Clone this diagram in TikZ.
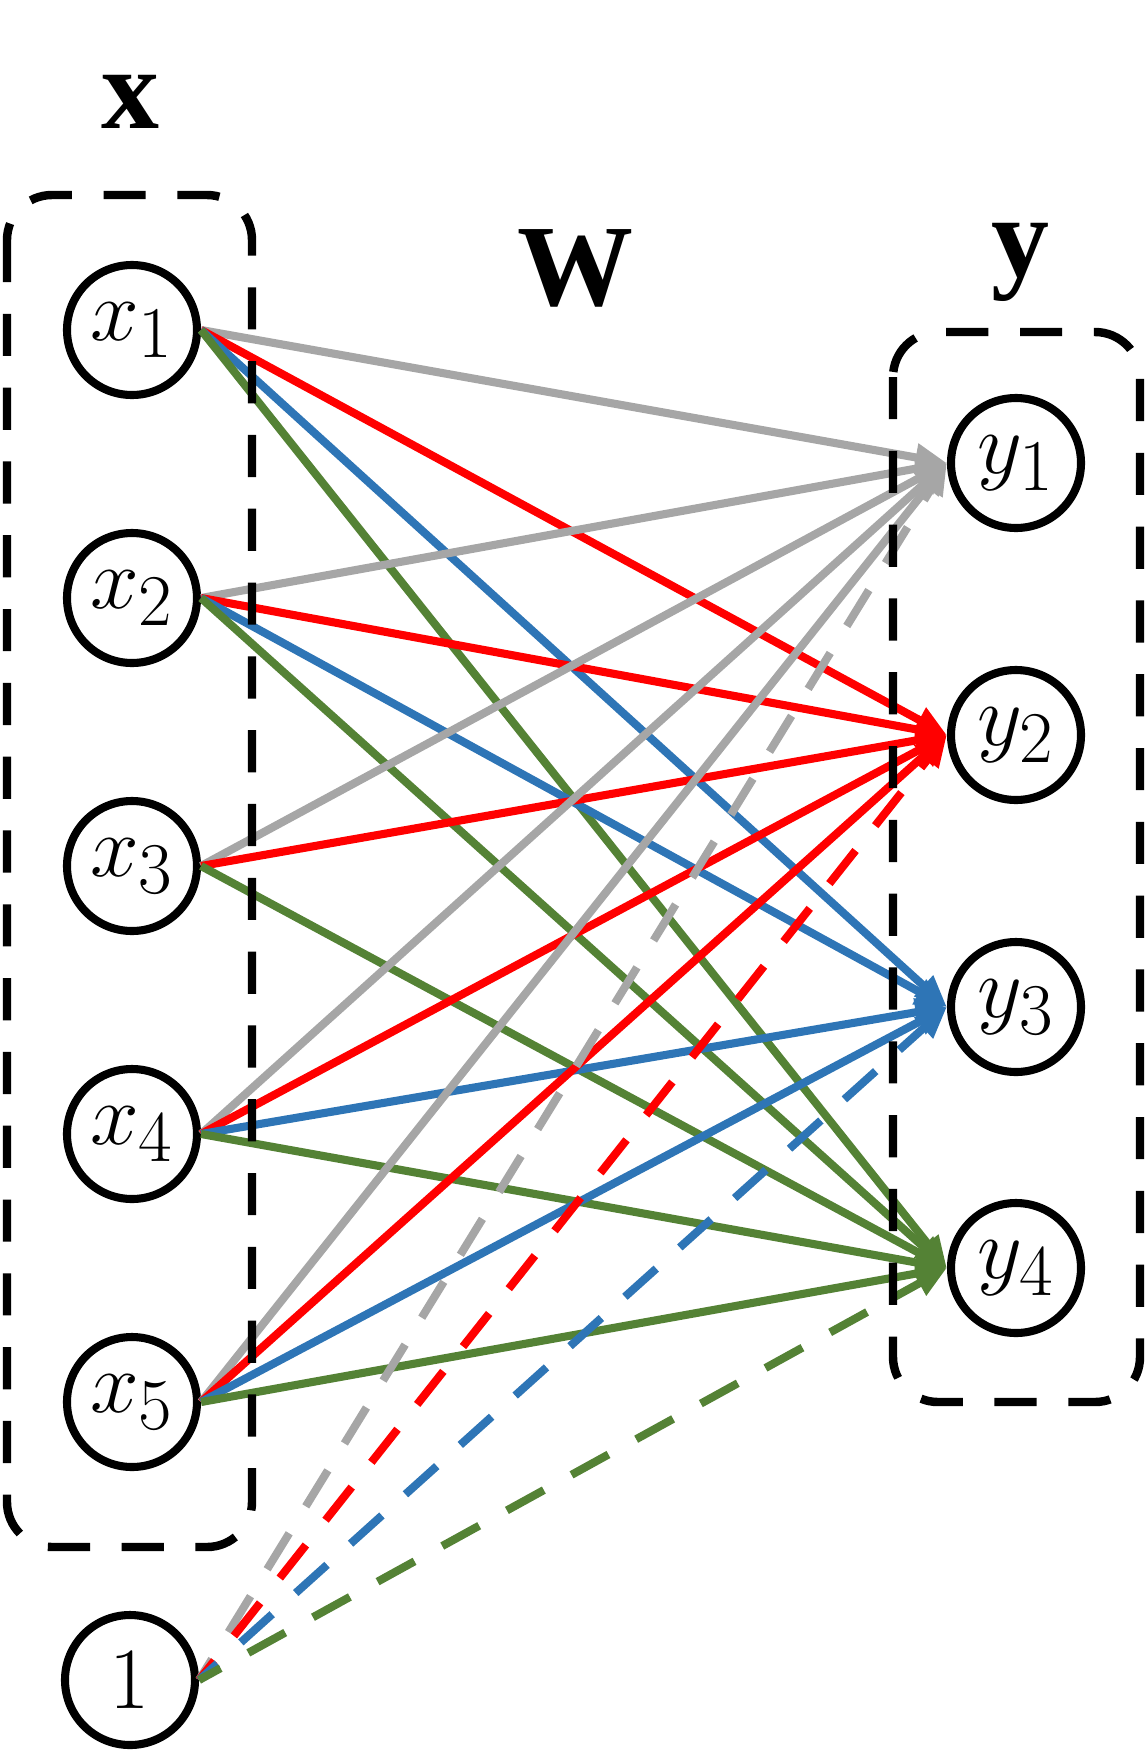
\documentclass[tikz,border=0pt]{standalone}
\usepackage{fontspec}
\newfontfamily\lblfont{Liberation Serif}
\usepackage{xcolor}
\usepackage{tikz}
\usetikzlibrary{arrows.meta}
\definecolor{wgray}{HTML}{A6A6A6}
\definecolor{wred}{HTML}{FF0000}
\definecolor{wblue}{HTML}{2E75B6}
\definecolor{wgreen}{HTML}{548235}

\begin{document}
\begin{tikzpicture}[
  unit/.style={circle,draw,line width=2.3pt,minimum size=1.3cm,inner sep=0pt,
    font=\fontsize{29}{33}\selectfont},
  wt/.style={line width=2.3pt,-{Triangle[length=9pt,width=7.5pt]}},
  bias/.style={wt,dash pattern=on 12pt off 9pt,dash phase=5pt},
  grp/.style={draw,line width=2.4pt,dash pattern=on 12pt off 9pt,rounded corners=0.45cm},
  lbl/.style={font=\lblfont\bfseries\fontsize{33}{36}\selectfont}]
  \useasboundingbox (0,0) rectangle (11.45,-17.55);
  %% input units
  \node[unit] (x1) at (1.32,-3.30)  {$x_1$};
  \node[unit] (x2) at (1.32,-5.98)  {$x_2$};
  \node[unit] (x3) at (1.32,-8.66)  {$x_3$};
  \node[unit] (x4) at (1.32,-11.34) {$x_4$};
  \node[unit] (x5) at (1.32,-14.02) {$x_5$};
  \node[unit] (b)  at (1.30,-16.80) {$1$};
  %% output units
  \node[unit] (y1) at (10.16,-4.63)  {$y_1$};
  \node[unit] (y2) at (10.16,-7.35)  {$y_2$};
  \node[unit] (y3) at (10.16,-10.07) {$y_3$};
  \node[unit] (y4) at (10.16,-12.68) {$y_4$};
  %% labels
  \node[lbl] (lx) at (1.30,-1.02)  {x};
  \node[lbl] (lw) at (5.75,-2.68)  {W};
  \node[lbl] (ly) at (10.20,-2.62) {y};
  % x1 -> y
  \draw[wt,wgray]  (x1.east) -- (y1.west);
  \draw[wt,wred]   (x1.east) -- (y2.west);
  \draw[wt,wblue]  (x1.east) -- (y3.west);
  \draw[wt,wgreen] (x1.east) -- (y4.west);
  % x2 -> y
  \draw[wt,wgray]  (x2.east) -- (y1.west);
  \draw[wt,wred]   (x2.east) -- (y2.west);
  \draw[wt,wblue]  (x2.east) -- (y3.west);
  \draw[wt,wgreen] (x2.east) -- (y4.west);
  % x3 -> y (no y3)
  \draw[wt,wgray]  (x3.east) -- (y1.west);
  \draw[wt,wred]   (x3.east) -- (y2.west);
  \draw[wt,wgreen] (x3.east) -- (y4.west);
  % x4 -> y
  \draw[wt,wgray]  (x4.east) -- (y1.west);
  \draw[wt,wred]   (x4.east) -- (y2.west);
  \draw[wt,wblue]  (x4.east) -- (y3.west);
  \draw[wt,wgreen] (x4.east) -- (y4.west);
  % x5 -> y
  \draw[wt,wgray]  (x5.east) -- (y1.west);
  \draw[wt,wred]   (x5.east) -- (y2.west);
  \draw[wt,wblue]  (x5.east) -- (y3.west);
  \draw[wt,wgreen] (x5.east) -- (y4.west);
  % bias -> y
  \draw[bias,wgray]  (b.east) -- (y1.west);
  \draw[bias,wred]   (b.east) -- (y2.west);
  \draw[bias,wblue]  (b.east) -- (y3.west);
  \draw[bias,wgreen] (b.east) -- (y4.west);
  %% dashed groups
  \draw[grp] (0.07,-1.95) rectangle (2.52,-15.47);
  \draw[grp] (8.93,-3.32) rectangle (11.40,-14.02);
\end{tikzpicture}
\end{document}
